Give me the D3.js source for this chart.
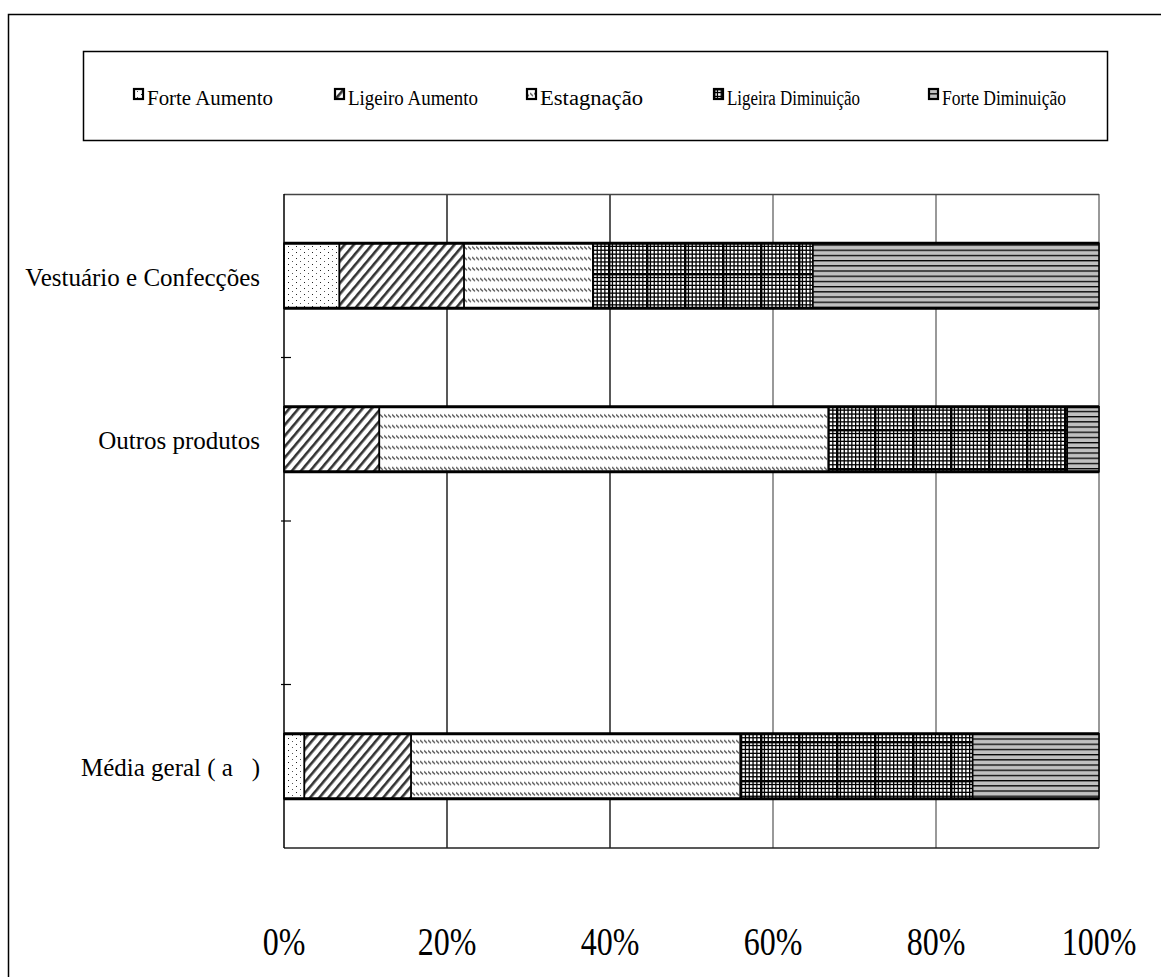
<!DOCTYPE html>
<html><head><meta charset="utf-8">
<script src="https://cdn.jsdelivr.net/npm/d3@7"></script>
<style>
html,body{margin:0;padding:0;background:#fff;}
svg{display:block;}
svg text{font-family:"Liberation Serif","Times New Roman",serif;fill:#000;white-space:pre;}
</style></head>
<body>
<svg id="chart" width="1161" height="977"></svg>
<script>
const categories = ["Vestuário e Confecções", "Outros produtos", "", "Média geral ( a   )"];
const seriesNames = ["Forte Aumento", "Ligeiro Aumento", "Estagnação", "Ligeira Diminuição", "Forte Diminuição"];
const forteAumento      = [6.8, 0,    0, 2.5];
const ligeiroAumento    = [15.3, 11.7, 0, 13.1];
const estagnacao        = [15.8, 55.1, 0, 40.4];
const ligeiraDiminuicao = [27.0, 29.3, 0, 28.5];
const forteDiminuicao   = [35.1, 3.9,  0, 15.5];
const xTicks = [0, 20, 40, 60, 80, 100];

const seriesValues = [forteAumento, ligeiroAumento, estagnacao, ligeiraDiminuicao, forteDiminuicao];
const patternIds = ["pFA", "pLA", "pES", "pLD", "pFD"];
const SERIF = "Liberation Serif";

const svg = d3.select("#chart");
const defs = svg.append("defs");

// Patterns
{
  const p = defs.append("pattern").attr("id","pFA").attr("patternUnits","userSpaceOnUse").attr("width",8).attr("height",6);
  p.append("rect").attr("width",8).attr("height",6).attr("fill","#fff");
  p.append("rect").attr("x",0).attr("y",0).attr("width",1).attr("height",1).attr("fill","#222");
  p.append("rect").attr("x",4).attr("y",3).attr("width",1).attr("height",1).attr("fill","#555");
}
{
  const p = defs.append("pattern").attr("id","pLA").attr("patternUnits","userSpaceOnUse").attr("width",7).attr("height",7)
    .attr("patternTransform","rotate(40)");
  p.append("rect").attr("width",7).attr("height",7).attr("fill","#fff");
  p.append("rect").attr("x",0).attr("y",0).attr("width",2.6).attr("height",7).attr("fill","#333");
}
{
  const p = defs.append("pattern").attr("id","pES").attr("patternUnits","userSpaceOnUse").attr("width",4).attr("height",10.5);
  p.append("rect").attr("width",4).attr("height",10.5).attr("fill","#fff");
  p.append("path").attr("d","M0,5 L3,8").attr("stroke","#444").attr("stroke-width",1.3);
}
{
  const w = 38, h = 39;
  const p = defs.append("pattern").attr("id","pLD").attr("patternUnits","userSpaceOnUse").attr("width",w).attr("height",h);
  p.append("rect").attr("width",w).attr("height",h).attr("fill","#fff");
  for (let x = 0; x < w; x += 3.8) p.append("rect").attr("x",x).attr("y",0).attr("width",1.3).attr("height",h).attr("fill","#000");
  for (let y = 0; y < h; y += 3.9) p.append("rect").attr("x",0).attr("y",y).attr("width",w).attr("height",1.3).attr("fill","#000");
  p.append("rect").attr("x",0).attr("y",0).attr("width",2.4).attr("height",h).attr("fill","#000");
  p.append("rect").attr("x",0).attr("y",0).attr("width",w).attr("height",2.4).attr("fill","#000");
}
{
  const p = defs.append("pattern").attr("id","pFD").attr("patternUnits","userSpaceOnUse").attr("width",10).attr("height",5.2);
  p.append("rect").attr("width",10).attr("height",5.2).attr("fill","#c0c0c0");
  p.append("rect").attr("x",0).attr("y",0).attr("width",10).attr("height",1.3).attr("fill","#000");
}

// Outer frame
svg.append("path").attr("d","M8.5,977 V14.5 H1161").attr("fill","none").attr("stroke","#000").attr("stroke-width",1.5);

// Legend
svg.append("rect").attr("x",83.5).attr("y",51.5).attr("width",1024).attr("height",89)
  .attr("fill","#fff").attr("stroke","#000").attr("stroke-width",1.5);
const legendX = [133, 334, 526, 713, 928];
const legendW = [126, 130, 103, 133, 124];
const leg = svg.append("g");
seriesNames.forEach((name, i) => {
  const g = leg.append("g").attr("transform", `translate(${legendX[i]},88)`);
  g.append("rect").attr("x",1).attr("y",1).attr("width",9).attr("height",10)
    .attr("fill", `url(#${patternIds[i]})`).attr("stroke","#000").attr("stroke-width",2.2);
  g.append("text").attr("x",14).attr("y",17)
    .attr("textLength", legendW[i]).attr("lengthAdjust","spacingAndGlyphs")
    .attr("font-family", SERIF).attr("font-size",20).text(name);
});

// Plot area
const margin = {left:284, right:1099, top:194, bottom:848};
const x = d3.scaleLinear().domain([0,100]).range([margin.left, margin.right]);
const y = d3.scaleBand().domain(categories.map((c,i)=>i)).range([margin.top, margin.bottom]).paddingInner(0).paddingOuter(0);
const barH = 65;

// gridlines
svg.append("g").selectAll("line").data(xTicks.slice(1)).join("line")
  .attr("x1", d=>x(d)).attr("x2", d=>x(d)).attr("y1", margin.top).attr("y2", margin.bottom)
  .attr("stroke", (d)=> d <= 40 ? "#222" : "#777").attr("stroke-width", 1.5);
svg.append("line").attr("x1",margin.left).attr("x2",margin.right).attr("y1",margin.top+0.5).attr("y2",margin.top+0.5).attr("stroke","#444").attr("stroke-width",1.5);
svg.append("line").attr("x1",margin.left).attr("x2",margin.right).attr("y1",margin.bottom).attr("y2",margin.bottom).attr("stroke","#222").attr("stroke-width",1.5);

// Bars
const stacked = categories.map((c, ci) => {
  let acc = 0;
  return seriesValues.map((vals, si) => {
    const v = vals[ci];
    const seg = {ci, si, x0: acc, x1: acc + v};
    acc += v;
    return seg;
  });
});
const barsG = svg.append("g");
stacked.forEach((segs, ci) => {
  const yc = y(ci) + y.bandwidth()/2;
  const top = yc - barH/2;
  segs.filter(s => s.x1 - s.x0 > 0).forEach(s => {
    barsG.append("rect")
      .attr("x", x(s.x0)).attr("y", top).attr("width", x(s.x1) - x(s.x0)).attr("height", barH)
      .attr("fill", `url(#${patternIds[s.si]})`).attr("stroke", "#000").attr("stroke-width", 1.6);
  });
  const total = d3.sum(segs, s => s.x1 - s.x0);
  if (total > 0) {
    barsG.append("line").attr("x1", x(0)).attr("x2", x(total)).attr("y1", top).attr("y2", top).attr("stroke","#000").attr("stroke-width",3);
    barsG.append("line").attr("x1", x(0)).attr("x2", x(total)).attr("y1", top+barH).attr("y2", top+barH).attr("stroke","#000").attr("stroke-width",3);
  }
});

// Left axis
svg.append("line").attr("x1",margin.left).attr("x2",margin.left).attr("y1",margin.top).attr("y2",margin.bottom).attr("stroke","#000").attr("stroke-width",1.5);
svg.append("g").selectAll("line").data(categories.slice(1).map((c,i)=>i+1)).join("line")
  .attr("x1", margin.left-3).attr("x2", margin.left+7)
  .attr("y1", d=>y(d)).attr("y2", d=>y(d)).attr("stroke","#000").attr("stroke-width",1.2);

// Category labels
svg.append("g").selectAll("text").data(categories).join("text")
  .attr("transform", (d,i)=>`translate(260,${y(i)+y.bandwidth()/2+10})`)
  .attr("text-anchor","end").attr("font-family", SERIF).attr("font-size",25).text(d=>d);

// X tick labels
svg.append("g").selectAll("text").data(xTicks).join("text")
  .attr("transform", d=>`translate(${x(d)},955) scale(0.8,1)`)
  .attr("text-anchor","middle").attr("font-family", SERIF).attr("font-size",40).text(d=>d+"%");
</script>
</body></html>
